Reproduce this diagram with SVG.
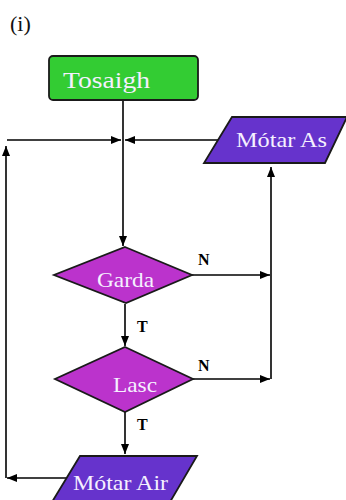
<svg xmlns="http://www.w3.org/2000/svg" width="346" height="500" viewBox="0 0 346 500">
<style>
.ln{fill:none;stroke:#000;stroke-width:1.6}
.node{stroke:#1a1a1a;stroke-width:1.8}
.lbl{font-family:"Liberation Serif","Times New Roman",serif;fill:#f5f0ff}
.tf{font-family:"Liberation Serif","Times New Roman",serif;font-weight:bold;font-size:16px;fill:#000}
</style>
<defs>
<marker id="ah" viewBox="0 0 10 8" refX="10" refY="4" markerWidth="10" markerHeight="8" markerUnits="userSpaceOnUse" orient="auto">
<path d="M0,0 L10,4 L0,8 Z" fill="#000"/>
</marker>
</defs>
<rect width="346" height="500" fill="#fff"/>
<text x="10" y="31" font-family="Liberation Serif,serif" font-size="22" fill="#111">(i)</text>
<g id="connectors">
<path class="ln" d="M123,100 V246" marker-end="url(#ah)"/>
<path class="ln" d="M6,478 V146" marker-end="url(#ah)"/>
<path class="ln" d="M7,140 H121" marker-end="url(#ah)"/>
<path class="ln" d="M218,140 H125" marker-end="url(#ah)"/>
<path class="ln" d="M192,275 H270" marker-end="url(#ah)"/>
<path class="ln" d="M193,379 H270" marker-end="url(#ah)"/>
<path class="ln" d="M271,379 V167" marker-end="url(#ah)"/>
<path class="ln" d="M125,304 V346" marker-end="url(#ah)"/>
<path class="ln" d="M125,412 V454" marker-end="url(#ah)"/>
<path class="ln" d="M66,478 H7" marker-end="url(#ah)"/>
<text class="tf" x="198" y="265">N</text>
<text class="tf" x="198" y="371">N</text>
<text class="tf" x="137" y="332">T</text>
<text class="tf" x="137" y="430">T</text>
</g>
<g id="start">
<rect class="node" x="49" y="56" width="149" height="44" rx="4" fill="#33cc33"/>
<text class="lbl" x="63" y="88" font-size="24" textLength="87" lengthAdjust="spacingAndGlyphs" fill="#f0fff0">Tosaigh</text>
</g>
<g id="motar-as">
<polygon class="node" points="232,117 347,117 325,163 204,163" fill="#6633cc"/>
<text class="lbl" x="236" y="147" font-size="22" textLength="91" lengthAdjust="spacingAndGlyphs">Mótar As</text>
</g>
<g id="garda">
<polygon class="node" points="125,247 192,275 126,303 54,275" fill="#bb33cc"/>
<text class="lbl" x="97" y="287" font-size="22" textLength="57" lengthAdjust="spacingAndGlyphs">Garda</text>
</g>
<g id="lasc">
<polygon class="node" points="125,347 193,379 125,412 55,379" fill="#bb33cc"/>
<text class="lbl" x="113" y="392" font-size="22" textLength="44" lengthAdjust="spacingAndGlyphs">Lasc</text>
</g>
<g id="motar-air">
<polygon class="node" points="80,456 197,456 170,502 52,502" fill="#6633cc"/>
<text class="lbl" x="73" y="490" font-size="22" textLength="95" lengthAdjust="spacingAndGlyphs">Mótar Air</text>
</g>
</svg>
